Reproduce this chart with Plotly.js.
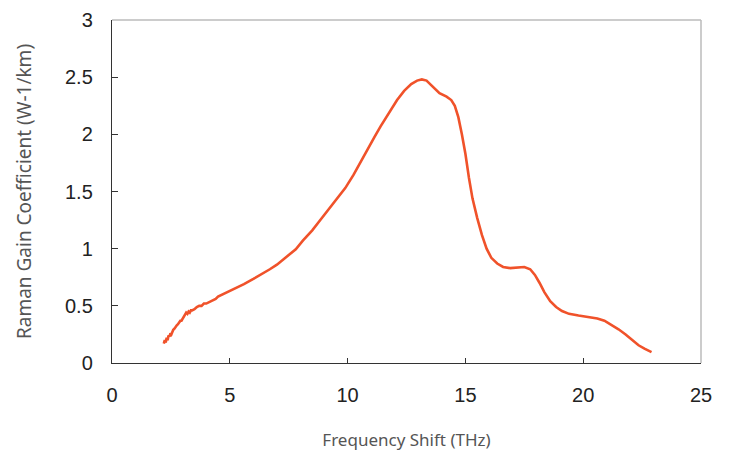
<!DOCTYPE html>
<html>
<head>
<meta charset="utf-8">
<script src="https://cdn.plot.ly/plotly-3.0.1.min.js"></script>
<style>html,body{margin:0;padding:0;background:#fff;}#chart{width:732px;height:454px;}</style>
</head>
<body>
<div id="chart"></div>
<script>
const freqShift = [2.20, 2.24, 2.28, 2.32, 2.36, 2.40, 2.44, 2.48, 2.52, 2.56, 2.60, 2.65, 2.70, 2.75, 2.80, 2.85, 2.90, 2.95, 3.00, 3.05, 3.10, 3.15, 3.20, 3.25, 3.30, 3.35, 3.40, 3.50, 3.60, 3.70, 3.80, 3.90, 4.00, 4.10, 4.20, 4.30, 4.40, 4.50, 4.60, 4.75, 4.90, 5.05, 5.3, 5.6, 6.0, 6.4, 6.7, 7.0, 7.4, 7.8, 8.1, 8.5, 8.8, 9.2, 9.55, 9.9, 10.25, 10.55, 10.85, 11.15, 11.4, 11.75, 12.1, 12.4, 12.7, 12.95, 13.15, 13.35, 13.6, 13.9, 14.2, 14.4, 14.55, 14.7, 14.85, 15.0, 15.15, 15.3, 15.5, 15.7, 15.9, 16.1, 16.35, 16.6, 16.9, 17.2, 17.5, 17.75, 17.95, 18.15, 18.35, 18.6, 18.85, 19.1, 19.4, 19.8, 20.2, 20.6, 20.9, 21.2, 21.5, 21.8, 22.1, 22.35, 22.6, 22.8, 22.9];
const ramanGain = [0.17, 0.20, 0.18, 0.22, 0.20, 0.24, 0.23, 0.26, 0.25, 0.28, 0.29, 0.30, 0.32, 0.33, 0.34, 0.36, 0.37, 0.37, 0.39, 0.40, 0.42, 0.44, 0.43, 0.45, 0.44, 0.46, 0.46, 0.47, 0.49, 0.50, 0.50, 0.52, 0.52, 0.53, 0.54, 0.55, 0.56, 0.58, 0.59, 0.60, 0.62, 0.63, 0.655, 0.69, 0.735, 0.78, 0.82, 0.86, 0.925, 0.995, 1.07, 1.16, 1.24, 1.345, 1.43, 1.53, 1.645, 1.76, 1.875, 1.98, 2.07, 2.19, 2.30, 2.38, 2.44, 2.47, 2.48, 2.47, 2.42, 2.36, 2.33, 2.30, 2.25, 2.15, 2.0, 1.83, 1.62, 1.44, 1.27, 1.12, 1.00, 0.92, 0.87, 0.84, 0.83, 0.835, 0.84, 0.82, 0.77, 0.70, 0.62, 0.54, 0.49, 0.455, 0.43, 0.415, 0.405, 0.39, 0.37, 0.335, 0.295, 0.25, 0.20, 0.155, 0.125, 0.10, 0.095];
const xTicks = [0, 5, 10, 15, 20, 25];
const yTicks = [0, 0.5, 1, 1.5, 2, 2.5, 3];
const xTitle = 'Frequency Shift (THz)';
const yTitle = 'Raman Gain Coefficient (W-1/km)';

const tickFont = {family: '"Liberation Sans", Arial, sans-serif', size: 20, color: '#222'};

Plotly.newPlot('chart', [{
  x: freqShift, y: ramanGain, type: 'scatter', mode: 'lines',
  line: {color: '#F0522A', width: 2.6}, hoverinfo: 'skip'
}], {
  width: 732, height: 454,
  margin: {l: 111.5, r: 30.7, t: 20, b: 91},
  paper_bgcolor: '#fff', plot_bgcolor: '#fff',
  showlegend: false,
  xaxis: {
    range: [0, 25], tickvals: xTicks, ticktext: xTicks.map(String),
    showgrid: false, zeroline: false, showline: true, linecolor: '#333', linewidth: 1.2,
    ticks: 'inside', ticklen: 5, tickcolor: '#333', tickwidth: 1,
    tickfont: tickFont, ticklabelstandoff: 14,
    title: {text: xTitle, font: {family: '"Noto Sans", sans-serif', size: 17, color: '#555'}, standoff: 28}
  },
  yaxis: {
    range: [0, 3], tickvals: yTicks, ticktext: yTicks.map(String),
    showgrid: false, zeroline: false, showline: true, linecolor: '#333', linewidth: 1.2,
    ticks: 'inside', ticklen: 6, tickcolor: '#333', tickwidth: 1,
    tickfont: tickFont, ticklabelstandoff: 14,
    title: {text: yTitle, font: {family: '"Noto Sans", sans-serif', size: 19, color: '#555'}, standoff: 28}
  },
  shapes: [
    {type: 'line', xref: 'paper', yref: 'paper', x0: 0, x1: 1, y0: 1, y1: 1, line: {color: '#bbb', width: 1.5}},
    {type: 'line', xref: 'paper', yref: 'paper', x0: 1, x1: 1, y0: 0, y1: 1, line: {color: '#bbb', width: 1.5}}
  ]
}, {displayModeBar: false, staticPlot: true});
</script>
</body>
</html>
